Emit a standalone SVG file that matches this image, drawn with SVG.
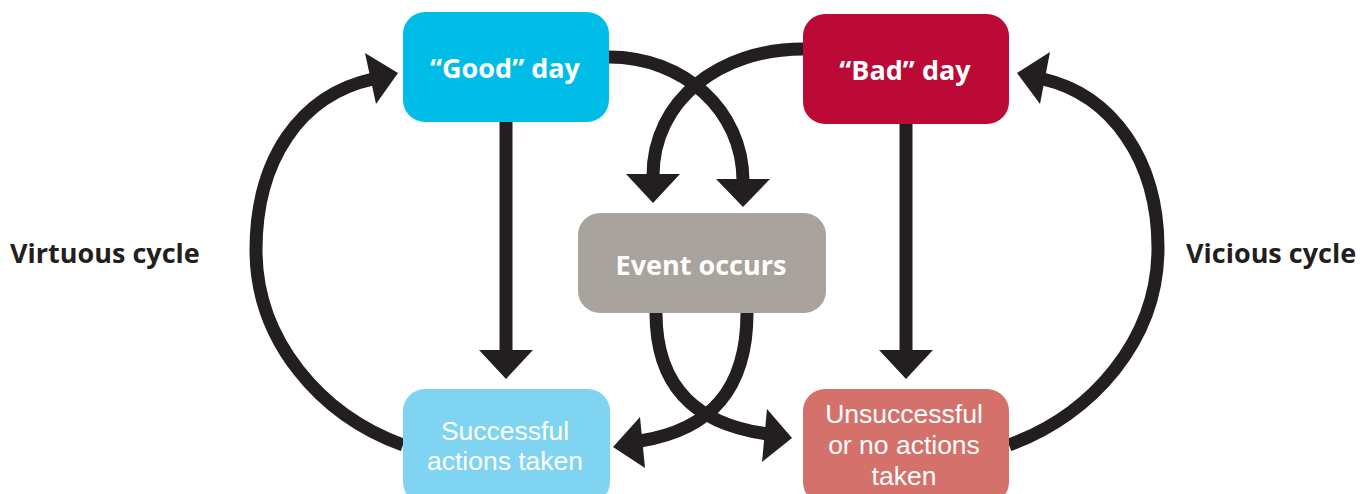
<svg xmlns="http://www.w3.org/2000/svg" width="1362" height="494" viewBox="0 0 1362 494">
  <style>
    .node-title { font-family: "Open Sans", "Liberation Sans", sans-serif; font-weight: bold; font-size: 27px; fill: #ffffff; text-anchor: middle; }
    .node-text { font-family: "Liberation Sans", Arial, sans-serif; font-weight: normal; font-size: 26.5px; fill: #ffffff; text-anchor: middle; }
    .label { font-family: "Open Sans", "Liberation Sans", sans-serif; font-weight: bold; font-size: 27px; fill: #231F20; }
    .conn { fill: none; stroke: #231F20; stroke-width: 13; }
    .head { fill: #231F20; stroke: none; }
  </style>

  <g id="connectors">
    <!-- Good day -> Successful actions -->
    <line class="conn" x1="506" y1="122" x2="506" y2="352"/>
    <polygon class="head" points="479,350 533,350 506,379"/>
    <!-- Bad day -> Unsuccessful -->
    <line class="conn" x1="906" y1="124" x2="906" y2="352"/>
    <polygon class="head" points="879,350 933,350 906,379"/>
    <!-- Good day -> Event occurs -->
    <path class="conn" d="M609,57 C683,57 743,110 743,181"/>
    <polygon class="head" points="716,179 770,179 743,207"/>
    <!-- Bad day -> Event occurs -->
    <path class="conn" d="M803,49 C720,49 653,100 653,176"/>
    <polygon class="head" points="626,174 680,174 653,203"/>
    <!-- Event occurs -> Unsuccessful -->
    <path class="conn" d="M656,313 C656,390 700,425 768,434"/>
    <polygon class="head" points="767,409 762,462 792,438"/>
    <!-- Event occurs -> Successful -->
    <path class="conn" d="M747,313 C747,390 710,430 640,441"/>
    <polygon class="head" points="640,417 645,468 613,447"/>
    <!-- Virtuous cycle: Successful -> Good day -->
    <path class="conn" d="M403,445 C320,415 256,340 256,250 C256,160 300,95 373,79"/>
    <polygon class="head" points="365,53 376,104 398,73"/>
    <!-- Vicious cycle: Unsuccessful -> Bad day -->
    <path class="conn" d="M1009,445 C1092,415 1158,340 1158,248 C1158,160 1112,95 1043,79"/>
    <polygon class="head" points="1050,52 1040,104 1017,73"/>
  </g>

  <g id="good-day">
    <rect x="403" y="12" width="206" height="110" rx="22" fill="#00BDE7"/>
    <text class="node-title" x="505" y="78">“Good” day</text>
  </g>

  <g id="bad-day">
    <rect x="803" y="14" width="206" height="110" rx="22" fill="#BB0A35"/>
    <text class="node-title" x="905" y="80">“Bad” day</text>
  </g>

  <g id="event-occurs">
    <rect x="578" y="213" width="248" height="100" rx="22" fill="#A8A39C"/>
    <text class="node-title" x="701" y="275">Event occurs</text>
  </g>

  <g id="successful-actions">
    <rect x="403" y="389" width="207" height="115" rx="22" fill="#7FD4F1"/>
    <text class="node-text" x="505" y="440">Successful</text>
    <text class="node-text" x="505" y="470">actions taken</text>
  </g>

  <g id="unsuccessful-actions">
    <rect x="803" y="389" width="206" height="115" rx="22" fill="#D4716B"/>
    <text class="node-text" x="904" y="423">Unsuccessful</text>
    <text class="node-text" x="904" y="454">or no actions</text>
    <text class="node-text" x="904" y="485">taken</text>
  </g>

  <g id="virtuous-cycle-label">
    <text class="label" x="10" y="263">Virtuous cycle</text>
  </g>

  <g id="vicious-cycle-label">
    <text class="label" x="1186" y="263">Vicious cycle</text>
  </g>
</svg>
